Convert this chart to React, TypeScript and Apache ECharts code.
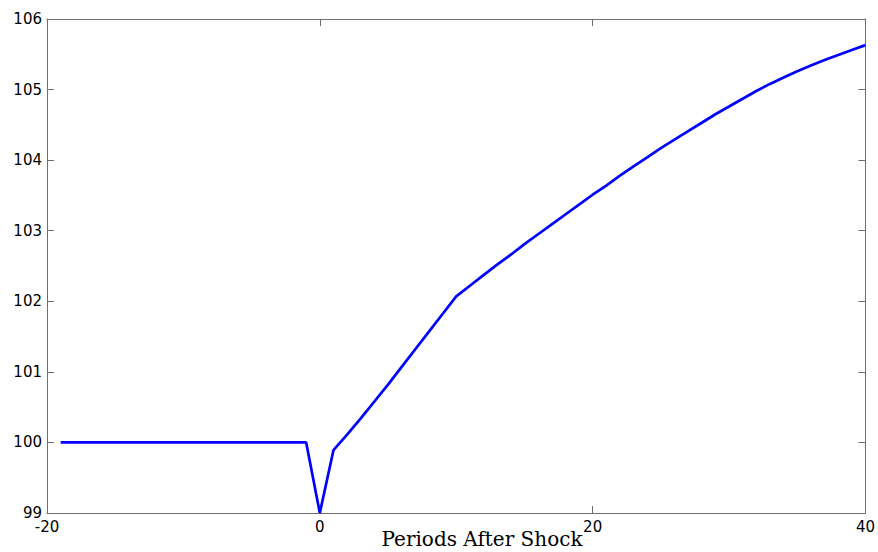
import React, { useEffect, useRef } from "react";
import * as echarts from "echarts";

const periods: number[] = [];
for (let t = -19; t <= 40; t++) periods.push(t);

const preShock = [100, 100, 100, 100, 100, 100, 100, 100, 100, 100, 100, 100, 100, 100, 100, 100, 100, 100, 100]; // -19..-1
const shockPath = [99.0, 99.89, 100.11, 100.34, 100.58, 100.82, 101.07, 101.32, 101.57, 101.82, 102.07]; // 0..10
const recoveryPath = [
  102.22, 102.37, 102.52, 102.66, 102.81, 102.95, 103.09, 103.23, 103.37, 103.51, // 11..20
  103.64, 103.78, 103.91, 104.04, 104.17, 104.29, 104.41, 104.53, 104.65, 104.76, // 21..30
  104.87, 104.98, 105.08, 105.17, 105.26, 105.34, 105.42, 105.49, 105.56, 105.63, // 31..40
];
const values = [...preShock, ...shockPath, ...recoveryPath];

const xTicks = [-20, 0, 20, 40];
const yTicks = [99, 100, 101, 102, 103, 104, 105, 106];
const xTitle = "Periods After Shock";

export default function App() {
  const ref = useRef<HTMLDivElement>(null);
  useEffect(() => {
    if (!ref.current) return;
    const chart = echarts.init(ref.current, null, { renderer: "svg" });
    const axisColor = "#6e6e6e";
    const labelFont = { fontFamily: "DejaVu Sans", fontSize: 15, color: "#000" };
    const xBase = {
      type: "value" as const,
      min: xTicks[0],
      max: xTicks[xTicks.length - 1],
      interval: 20,
      splitLine: { show: false },
      axisLine: { show: true, onZero: false, lineStyle: { color: axisColor, width: 1 } },
      axisTick: { show: true, inside: true, length: 7, lineStyle: { color: axisColor } },
    };
    const yBase = {
      type: "value" as const,
      min: yTicks[0],
      max: yTicks[yTicks.length - 1],
      interval: 1,
      splitLine: { show: false },
      axisLine: { show: true, onZero: false, lineStyle: { color: axisColor, width: 1 } },
      axisTick: { show: true, inside: true, length: 7, lineStyle: { color: axisColor } },
    };
    chart.setOption({
      animation: false,
      backgroundColor: "#fff",
      grid: { left: 47, right: 11, top: 19, bottom: 39, show: false },
      xAxis: [
        { ...xBase, position: "bottom", axisLabel: { ...labelFont, margin: 6 } },
        { ...xBase, position: "top", axisLabel: { show: false } },
      ],
      yAxis: [
        { ...yBase, position: "left", axisLabel: { ...labelFont, margin: 5 } },
        { ...yBase, position: "right", axisLabel: { show: false } },
      ],
      graphic: [
        {
          type: "text",
          x: 482,
          y: 529,
          style: {
            text: xTitle,
            font: "20px 'DejaVu Serif'",
            fill: "#000",
            textAlign: "center",
            textVerticalAlign: "top",
          },
        },
      ],
      series: [
        {
          type: "line",
          data: periods.map((p, i) => [p, values[i]]),
          showSymbol: false,
          symbol: "none",
          lineStyle: { color: "#0000ff", width: 2.7 },
          xAxisIndex: 0,
          yAxisIndex: 0,
        },
      ],
    });
    return () => chart.dispose();
  }, []);
  return (
    <div
      ref={ref}
      style={{ position: "fixed", left: 0, top: 0, width: 878, height: 552 }}
    />
  );
}
